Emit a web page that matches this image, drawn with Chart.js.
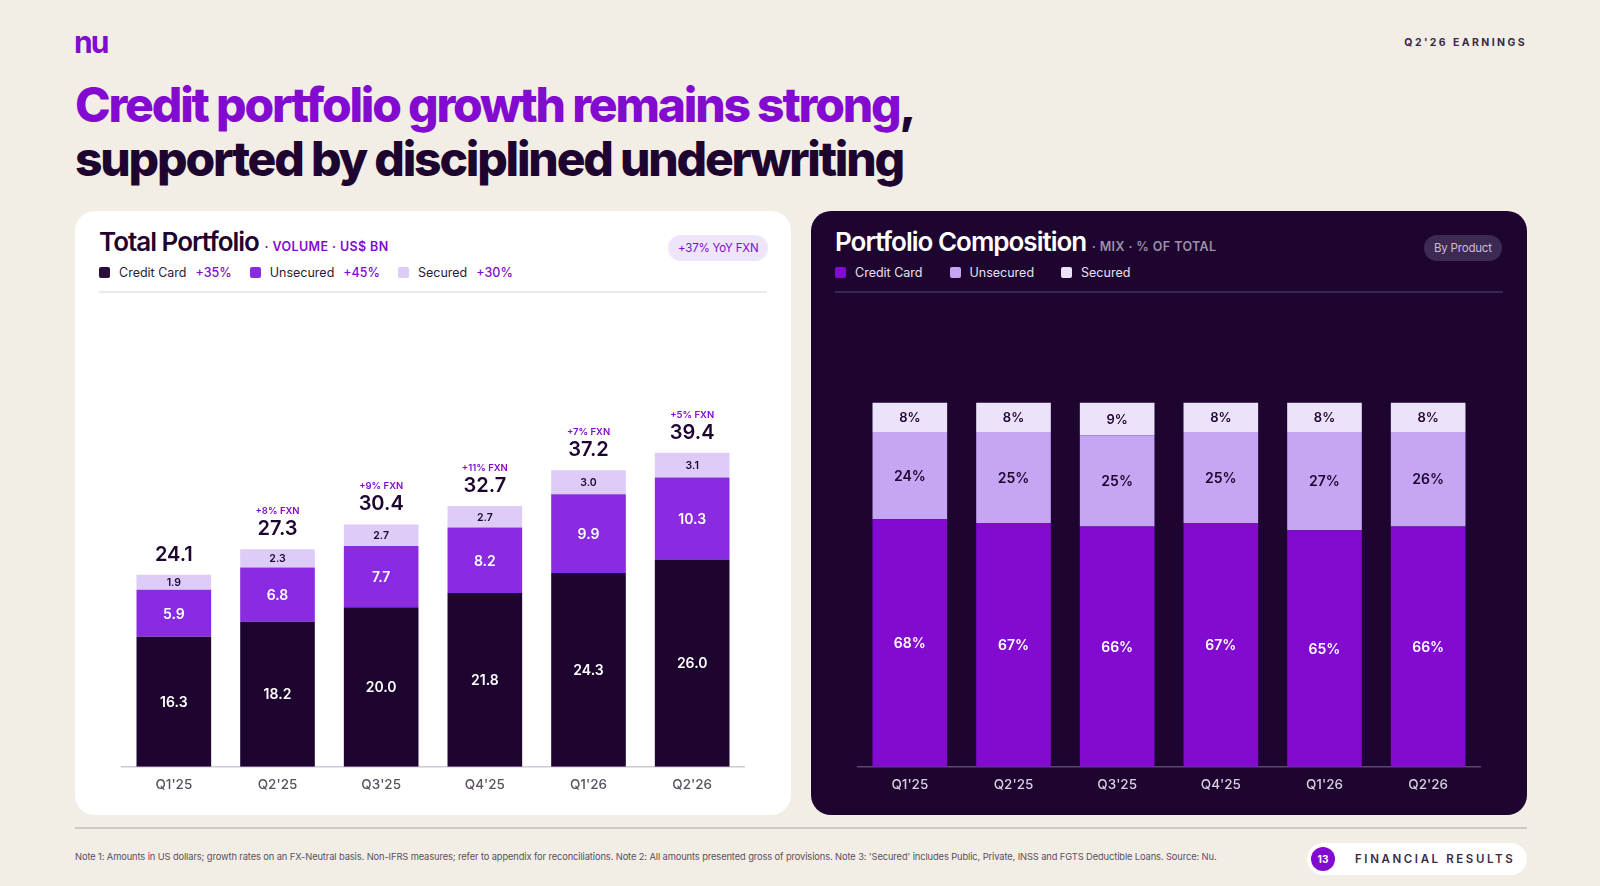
<!DOCTYPE html>
<html>
<head>
<meta charset="utf-8">
<script src="https://cdn.jsdelivr.net/npm/chart.js@4.4.1/dist/chart.umd.min.js"></script>
<style>
  body { margin: 0; width: 1600px; height: 886px; background: #f2ede5; font-family: Inter, "Noto Sans", sans-serif; position: relative; overflow: hidden; }
  .abs { position: absolute; }
  .logo { left: 74px; top: 24px; font-size: 30px; font-weight: 700; color: #820ad1; letter-spacing: -2px; }
  .earn { right: 73px; top: 36px; font-size: 10.5px; font-weight: 700; letter-spacing: 2.4px; color: #3a2a45; }
  .title { left: 75px; top: 78px; font-size: 48px; font-weight: 800; letter-spacing: -2.2px; line-height: 54px; color: #1e0530; }
  .title .p { color: #820ad1; }
  .card { top: 211px; width: 716px; height: 604px; border-radius: 20px; }
  .ct { top: 226px; font-size: 26px; font-weight: 600; letter-spacing: -1px; }
  .ct span { font-size: 12.5px; font-weight: 600; letter-spacing: 0.4px; }
  .leg { top: 265px; font-size: 12.5px; display: flex; align-items: center; }
  .leg i { display: inline-block; width: 11px; height: 11px; border-radius: 2px; margin-right: 9px; }
  .leg b { font-weight: 500; margin: 0 18px 0 9px; }
  .badge { top: 235px; height: 26px; line-height: 26px; border-radius: 13px; font-size: 11.5px; padding: 0 10px; letter-spacing: -0.2px; }
  .hr { height: 2px; }
  .note { left: 75px; top: 851px; font-size: 9.3px; color: #5a5060; letter-spacing: -0.1px; }
  .pill { left: 1307px; top: 843px; width: 220px; height: 32px; border-radius: 16px; background: #fff; }
  .pill .n { position: absolute; left: 4px; top: 4px; width: 24px; height: 24px; border-radius: 12px; background: #820ad1; color: #fff; font-size: 10px; font-weight: 700; text-align: center; line-height: 24px; }
  .pill .t { position: absolute; left: 48px; top: 9px; font-size: 11.5px; font-weight: 600; letter-spacing: 2.6px; color: #3a2a45; }
</style>
</head>
<body>
<div class="abs logo">nu</div>
<div class="abs earn">Q2'26 EARNINGS</div>
<div class="abs title"><span class="p">Credit portfolio growth remains strong</span>,<br>supported by disciplined underwriting</div>

<div class="abs card" style="left:75px;background:#fff"></div>
<div class="abs ct" style="left:99px;color:#1e0530">Total Portfolio <span style="color:#820ad1">· VOLUME · US$ BN</span></div>
<div class="abs leg" style="left:99px;color:#2a1a35">
  <i style="background:#2a0f3d"></i>Credit Card<b style="color:#820ad1">+35%</b>
  <i style="background:#8a2be2"></i>Unsecured<b style="color:#820ad1">+45%</b>
  <i style="background:#ddccf7"></i>Secured<b style="color:#820ad1">+30%</b>
</div>
<div class="abs badge" style="left:668px;background:#efe5fb;color:#820ad1">+37% YoY FXN</div>
<div class="abs hr" style="left:99px;top:291px;width:668px;background:#ece8ee"></div>
<div class="abs" style="left:100px;top:298px;width:670px;height:497px"><canvas id="left"></canvas></div>

<div class="abs card" style="left:811px;background:#1e0530"></div>
<div class="abs ct" style="left:835px;color:#fff">Portfolio Composition <span style="color:#9c8fa8">· MIX · % OF TOTAL</span></div>
<div class="abs leg" style="left:835px;color:#e8e0ee">
  <i style="background:#820ad1"></i>Credit Card<b></b>
  <i style="background:#c4a6f3"></i>Unsecured<b></b>
  <i style="background:#ece3fb"></i>Secured<b></b>
</div>
<div class="abs badge" style="left:1424px;background:#3d2a52;color:#cbbcdc">By Product</div>
<div class="abs hr" style="left:835px;top:291px;width:668px;background:#3a2650"></div>
<div class="abs" style="left:836px;top:298px;width:670px;height:497px"><canvas id="right"></canvas></div>

<div class="abs hr" style="left:75px;top:827px;width:1452px;background:#cfc9c4"></div>
<div class="abs note">Note 1: Amounts in US dollars; growth rates on an FX-Neutral basis. Non-IFRS measures; refer to appendix for reconciliations. Note 2: All amounts presented gross of provisions. Note 3: 'Secured' includes Public, Private, INSS and FGTS Deductible Loans. Source: Nu.</div>
<div class="abs pill"><div class="n">13</div><div class="t">FINANCIAL RESULTS</div></div>

<script>
const quarters = ["Q1'25", "Q2'25", "Q3'25", "Q4'25", "Q1'26", "Q2'26"];
const creditCard = [16.3, 18.2, 20.0, 21.8, 24.3, 26.0];
const unsecured = [5.9, 6.8, 7.7, 8.2, 9.9, 10.3];
const secured = [1.9, 2.3, 2.7, 2.7, 3.0, 3.1];
const totals = [24.1, 27.3, 30.4, 32.7, 37.2, 39.4];
const qoqGrowth = ["", "+8% FXN", "+9% FXN", "+11% FXN", "+7% FXN", "+5% FXN"];
const mixCredit = [68, 67, 66, 67, 65, 66];
const mixUnsecured = [24, 25, 25, 25, 27, 26];
const mixSecured = [8, 8, 9, 8, 8, 8];

// texte dans les barres + totaux au-dessus
const labelPlugin = {
  id: "labels",
  afterDatasetsDraw(chart, args, opts) {
    const ctx = chart.ctx;
    ctx.save();
    ctx.textAlign = "center";
    ctx.textBaseline = "middle";
    chart.data.datasets.forEach((ds, i) => {
      chart.getDatasetMeta(i).data.forEach((bar, j) => {
        const v = ds.data[j];
        ctx.fillStyle = ds.labelColor;
        ctx.font = ds.labelFont;
        const txt = opts.percent ? v + "%" : v.toFixed(1);
        ctx.fillText(txt, bar.x, (bar.y + bar.base) / 2 + 1);
      });
    });
    if (opts.totals) {
      const top = chart.getDatasetMeta(chart.data.datasets.length - 1).data;
      top.forEach((bar, j) => {
        ctx.fillStyle = "#1e0530";
        ctx.font = "600 20px Inter";
        ctx.fillText(opts.totals[j].toFixed(1), bar.x, bar.y - 20);
        if (opts.growth[j]) {
          ctx.fillStyle = "#820ad1";
          ctx.font = "600 9.5px Inter";
          ctx.fillText(opts.growth[j], bar.x, bar.y - 38);
        }
      });
    }
    ctx.restore();
  }
};

function makeChart(id, datasets, yMax, axisColor, tickColor, pluginOpts) {
  return new Chart(document.getElementById(id), {
    type: "bar",
    data: { labels: quarters, datasets: datasets },
    options: {
      responsive: true,
      maintainAspectRatio: false,
      animation: false,
      layout: { padding: { left: 22, right: 26 } },
      datasets: { bar: { barPercentage: 0.72, categoryPercentage: 1 } },
      plugins: { legend: { display: false }, tooltip: { enabled: false }, labels: pluginOpts },
      scales: {
        x: {
          stacked: true,
          grid: { display: false },
          border: { color: axisColor, width: 1.5 },
          ticks: { color: tickColor, font: { family: "Inter", size: 13.5, weight: 500 }, padding: 2 }
        },
        y: { stacked: true, display: false, min: 0, max: yMax }
      }
    },
    plugins: [labelPlugin]
  });
}

makeChart("left", [
  { data: creditCard, backgroundColor: "#1e0530", labelColor: "#fff", labelFont: "600 14px Inter" },
  { data: unsecured, backgroundColor: "#8a2be2", labelColor: "#fff", labelFont: "600 14px Inter" },
  { data: secured, backgroundColor: "#ddccf7", labelColor: "#1e0530", labelFont: "600 10.5px Inter" }
], 58.8, "#cfcad3", "#5a5060", { totals: totals, growth: qoqGrowth });

makeChart("right", [
  { data: mixCredit, backgroundColor: "#820ad1", labelColor: "#fff", labelFont: "600 14px Inter" },
  { data: mixUnsecured, backgroundColor: "#c4a6f3", labelColor: "#1e0530", labelFont: "600 14px Inter" },
  { data: mixSecured, backgroundColor: "#ece3fb", labelColor: "#1e0530", labelFont: "600 13px Inter" }
], 128.8, "#5a4670", "#d8cfe0", { percent: true });
</script>
</body>
</html>
